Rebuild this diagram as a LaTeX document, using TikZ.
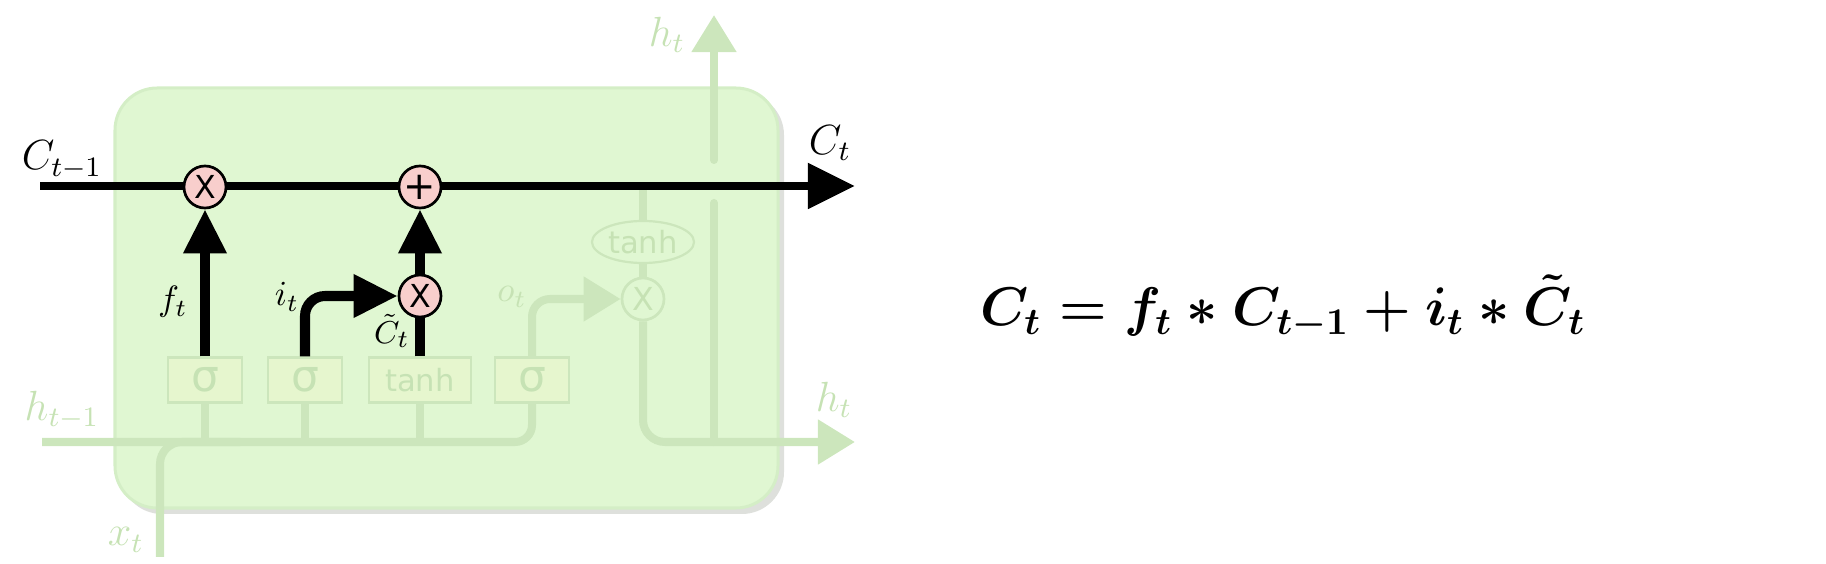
\documentclass[tikz,border=0pt]{standalone}
\usepackage{fontspec}
\usepackage{graphicx}
\newfontfamily\dejavu{DejaVu Sans}
\usetikzlibrary{arrows.meta,shapes.geometric}
\definecolor{boxfill}{RGB}{224,247,210}
\definecolor{boxedge}{RGB}{212,238,198}
\definecolor{faded}{RGB}{204,230,188}
\definecolor{fadedfill}{RGB}{230,246,206}
\definecolor{fadedtext}{RGB}{198,226,180}
\definecolor{pinkop}{RGB}{248,206,204}
\definecolor{shadowc}{RGB}{222,224,220}
\begin{document}
\begin{tikzpicture}[x=0.01cm,y=-0.01cm,
  cellline/.style={line width=0.085cm,-{Triangle[length=0.47cm,width=0.44cm]}},
  gatearrow/.style={line width=0.1cm,-{Triangle[length=0.44cm,width=0.41cm]}},
  gateline/.style={line width=0.1cm},
  fadedline/.style={draw=faded,line width=0.08cm},
  fadedarrow/.style={fadedline,-{Triangle[length=0.37cm,width=0.43cm]}},
  opcircle/.style={circle,draw=black,line width=0.027cm,fill=pinkop,minimum size=0.42cm,inner sep=0pt,font=\dejavu\fontsize{9}{9}\selectfont},
  fadedop/.style={circle,draw=faded,line width=0.027cm,fill=boxfill,minimum size=0.42cm,inner sep=0pt,text=fadedtext,font=\dejavu\fontsize{9}{9}\selectfont},
  gatebox/.style={rectangle,draw=faded,line width=0.022cm,fill=fadedfill,minimum width=0.74cm,minimum height=0.45cm,inner sep=0pt,text=fadedtext,font=\dejavu\fontsize{12.5}{12.5}\selectfont},
  tanhfont/.style={font=\dejavu\fontsize{8.7}{8.7}\selectfont},
  biglabel/.style={font=\fontsize{12}{12}\selectfont,inner sep=0pt},
  smalllabel/.style={font=\fontsize{10}{10}\selectfont,inner sep=0pt},
  fadedlabel/.style={biglabel,text=fadedtext}]
\useasboundingbox (0,0) rectangle (1826,564);
% cell body
\fill[shadowc,rounded corners=0.42cm] (120,93) rectangle (784,514);
\draw[boxedge,fill=boxfill,line width=0.03cm,rounded corners=0.42cm] (115,88) rectangle (778,508);
% named points
\coordinate (cin) at (40,186);
\coordinate (cout) at (855,186);
\coordinate (hin) at (42,442);
\coordinate (hout) at (855,442);
\coordinate (xin) at (160,557);
\coordinate (hj) at (714,442);
\coordinate (gapb) at (714,203);
\coordinate (gapt) at (714,160);
\coordinate (htop) at (714,15);
\coordinate (xj) at (240,442);
% faded nodes
\node[gatebox] (sf) at (205,380) {σ};
\node[gatebox] (si) at (305,380) {σ};
\node[gatebox,tanhfont,minimum width=1.02cm] (tc) at (420,380) {tanh};
\node[gatebox] (so) at (532,380) {σ};
\node[ellipse,draw=faded,line width=0.022cm,fill=boxfill,text=fadedtext,tanhfont,minimum width=1.02cm,minimum height=0.42cm,inner sep=0pt] (th) at (643,242) {tanh};
\node[fadedop] (ox) at (643,299) {X};
% faded connectors
\draw[fadedline,rounded corners=0.17cm] (hin) -| (so.south);
\draw[fadedline,rounded corners=0.22cm] (xin) |- (xj);
\draw[fadedline] (sf.south) -- (sf.south |- hin);
\draw[fadedline] (si.south) -- (si.south |- hin);
\draw[fadedline] (tc.south) -- (tc.south |- hin);
\draw[fadedarrow,rounded corners=0.18cm] (so.north) |- (ox.west);
\draw[fadedline] (th.north |- cin) -- (th.north);
\draw[fadedline] (th.south) -- (ox.north);
\draw[fadedarrow,rounded corners=0.22cm] (ox.south) |- (hout);
\draw[fadedline,line cap=round] (hj) -- (gapb);
\draw[fadedarrow,line cap=round] (gapt) -- (htop);
% black connectors
\draw[cellline] (cin) -- (cout);
\node[opcircle] (fx) at (205,187) {X};
\node[opcircle] (plus) at (420,187) {\fontsize{11}{11}\selectfont +};
\node[opcircle] (ix) at (420,296) {X};
\draw[gatearrow] (sf.north) -- (fx.south);
\draw[gatearrow,rounded corners=0.2cm] (si.north) |- (ix.west);
\draw[gateline] (tc.north) -- (ix.south);
\draw[gatearrow] (ix.north) -- (plus.south);
% labels
\node[biglabel] (lcp) at (62,160) {$C_{t-1}$};
\node[biglabel] (lcn) at (830,143) {$C_t$};
\node[smalllabel] (lf) at (173,302) {$f_t$};
\node[smalllabel] (li) at (287,297) {$i_t$};
\node[font=\fontsize{9.5}{9.5}\selectfont,inner sep=0pt] (lct) at (392,331) {$\tilde{C}_t$};
\node[smalllabel,text=fadedtext] (lo) at (512,297) {$o_t$};
\node[fadedlabel] (lhp) at (62,410) {$h_{t-1}$};
\node[fadedlabel] (lx) at (126,540) {$x_t$};
\node[fadedlabel] (lht) at (667,35) {$h_t$};
\node[fadedlabel] (lhr) at (834,400) {$h_t$};
% equation
\node[font=\fontsize{14.4}{14.4}\selectfont\boldmath,inner sep=0pt] (eq) at (1283,307) {\scalebox{1.075}{$C_t = f_t * C_{t-1} + i_t * \tilde{C}_t$}};
\end{tikzpicture}
\end{document}
